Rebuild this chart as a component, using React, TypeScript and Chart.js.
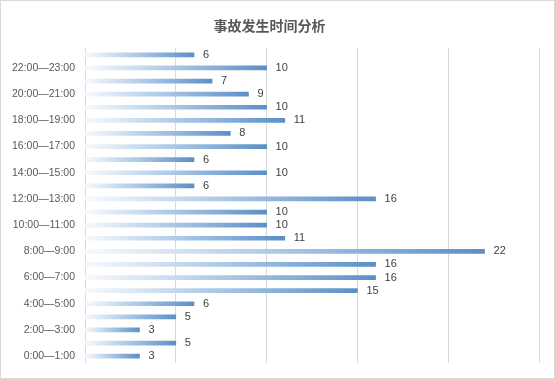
import React, { useEffect, useRef } from "react";
import { Chart, registerables } from "chart.js";

Chart.register(...registerables);

const titleText = "事故发生时间分析";
const hours: string[] = [
  "0:00—1:00", "1:00—2:00", "2:00—3:00", "3:00—4:00", "4:00—5:00", "5:00—6:00",
  "6:00—7:00", "7:00—8:00", "8:00—9:00", "9:00—10:00", "10:00—11:00", "11:00—12:00",
  "12:00—13:00", "13:00—14:00", "14:00—15:00", "15:00—16:00", "16:00—17:00", "17:00—18:00",
  "18:00—19:00", "19:00—20:00", "20:00—21:00", "21:00—22:00", "22:00—23:00", "23:00—24:00",
];
const counts: number[] = [3, 5, 3, 5, 6, 15, 16, 16, 22, 11, 10, 10, 16, 6, 10, 6, 10, 8, 11, 10, 9, 7, 10, 6];
const axisMin = 0;
const axisMax = 25;
const axisStep = 5;

const valueLabels = {
  id: "valueLabels",
  afterDatasetsDraw(chart: any) {
    const ctx = chart.ctx;
    const meta = chart.getDatasetMeta(0);
    ctx.save();
    ctx.font = "11px 'Liberation Sans', Arial, sans-serif";
    ctx.fillStyle = "#404040";
    ctx.textAlign = "left";
    ctx.textBaseline = "middle";
    meta.data.forEach((el: any, i: number) => {
      ctx.fillText(String(counts[i]), el.x + 9, el.y);
    });
    ctx.restore();
  },
};

const frame = {
  id: "frame",
  beforeDraw(chart: any) {
    const ctx = chart.ctx;
    ctx.save();
    ctx.fillStyle = "#ffffff";
    ctx.fillRect(0, 0, chart.width, chart.height);
    ctx.strokeStyle = "#d9d9d9";
    ctx.lineWidth = 1;
    ctx.strokeRect(0.5, 0.5, chart.width - 1, chart.height - 1);
    ctx.restore();
  },
};

export default function App() {
  const ref = useRef<HTMLCanvasElement>(null);
  useEffect(() => {
    document.body.style.margin = "0";
    const chart = new Chart(ref.current!, {
      type: "bar",
      data: {
        labels: hours,
        datasets: [
          {
            data: counts,
            barThickness: 4,
            borderWidth: 0,
            backgroundColor: (c: any) => {
              const ch = c.chart;
              const xs = ch.scales && ch.scales.x;
              if (!xs || c.dataIndex === undefined) return "#5b8fc7";
              const x0 = xs.getPixelForValue(0);
              const x1 = xs.getPixelForValue(counts[c.dataIndex]);
              if (!isFinite(x0) || !isFinite(x1) || x1 - x0 < 1) return "#5b8fc7";
              const g = ch.ctx.createLinearGradient(x0, 0, x1, 0);
              g.addColorStop(0, "#f7fafd");
              g.addColorStop(0.5, "#a8c6e6");
              g.addColorStop(1, "#5b8fc7");
              return g;
            },
          },
        ],
      },
      options: {
        indexAxis: "y",
        animation: false,
        responsive: false,
        maintainAspectRatio: false,
        layout: { padding: { top: 2.5, bottom: 13.5, right: 16, left: 0 } },
        plugins: {
          legend: { display: false },
          tooltip: { enabled: false },
          title: {
            display: true,
            text: titleText,
            color: "#595959",
            font: { family: "'Noto Sans CJK SC'", size: 14, weight: "bold" },
            padding: { top: 15, bottom: 14 },
          },
        },
        scales: {
          x: {
            min: axisMin,
            max: axisMax,
            ticks: { display: false, stepSize: axisStep },
            grid: { color: "#d9d9d9", drawTicks: false, lineWidth: 1 },
            border: { display: false },
            afterFit: (s: any) => { s.height = 0; },
          },
          y: {
            reverse: true,
            grid: { display: false, drawTicks: false },
            border: { display: true, color: "#d9d9d9", width: 1 },
            ticks: {
              autoSkip: false,
              padding: 10,
              color: "#595959",
              font: { family: "'Liberation Sans', Arial, sans-serif", size: 10.5 },
              callback: (_v: any, i: number) => (i % 2 === 0 ? hours[i] : ""),
            },
            afterFit: (s: any) => { s.width = 85; },
          },
        },
      },
      plugins: [frame, valueLabels],
    });
    return () => chart.destroy();
  }, []);
  return <canvas ref={ref} width={555} height={379} style={{ display: "block" }} />;
}
